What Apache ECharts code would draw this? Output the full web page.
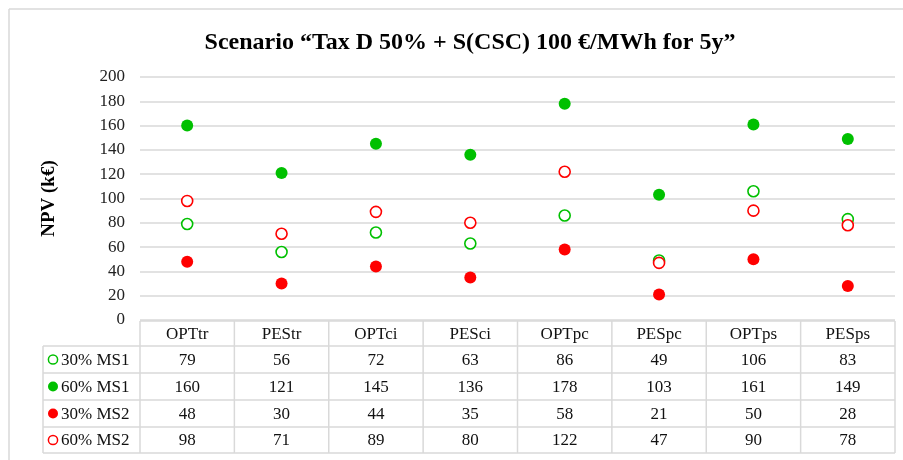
<!DOCTYPE html>
<html>
<head>
<meta charset="utf-8">
<script src="https://cdn.jsdelivr.net/npm/echarts@6/dist/echarts.min.js"></script>
<style>
  html, body { margin: 0; padding: 0; background: #fff; }
  #chart { width: 903px; height: 460px; }
</style>
</head>
<body>
<div id="chart"></div>
<script>
// 数据
const categories = ['OPTtr', 'PEStr', 'OPTci', 'PESci', 'OPTpc', 'PESpc', 'OPTps', 'PESps']
const ms1_30 = [79, 56, 72, 63, 86, 49, 106, 83]
const ms1_60 = [160, 121, 145, 136, 178, 103, 161, 149]
const ms2_30 = [48, 30, 44, 35, 58, 21, 50, 28]
const ms2_60 = [98, 71, 89, 80, 122, 47, 90, 78]
const yTicks = [0, 20, 40, 60, 80, 100, 120, 140, 160, 180, 200]

const GREEN = '#00c000'
const RED = '#ff0000'
const LINE = '#d9d9d9'
const SERIF = '"Liberation Serif", "DejaVu Serif", serif'

const rows = [
  { name: '30% MS1', data: ms1_30, color: GREEN, hollow: true },
  { name: '60% MS1', data: ms1_60, color: GREEN, hollow: false },
  { name: '30% MS2', data: ms2_30, color: RED, hollow: false },
  { name: '60% MS2', data: ms2_60, color: RED, hollow: true }
]

const chart = echarts.init(document.getElementById('chart'))

const option = {
  animation: false,
  title: {
    text: 'Scenario \u201cTax D 50% + S(CSC) 100 \u20ac/MWh for 5y\u201d',
    left: 465,
    top: 26,
    textAlign: 'center',
    textStyle: { fontFamily: SERIF, fontSize: 24, fontWeight: 'bold', color: '#000' }
  },
  grid: { left: 140, right: 8, top: 77, bottom: 140 },
  xAxis: {
    type: 'category',
    data: categories,
    boundaryGap: true,
    axisLine: { show: false },
    axisTick: { show: false },
    axisLabel: { show: false }
  },
  yAxis: {
    type: 'value',
    min: yTicks[0],
    max: yTicks[yTicks.length - 1],
    interval: 20,
    name: 'NPV (k\u20ac)',
    nameLocation: 'middle',
    nameGap: 81,
    nameTextStyle: { fontFamily: SERIF, fontSize: 19, fontWeight: 'bold', color: '#000' },
    axisLine: { show: false },
    axisTick: { show: false },
    axisLabel: { fontFamily: SERIF, fontSize: 17, color: '#222', margin: 15 },
    splitLine: { lineStyle: { color: LINE, width: 1.5 } }
  },
  series: rows.map(r => ({
    name: r.name,
    type: 'scatter',
    data: r.data,
    symbol: 'circle',
    symbolSize: r.hollow ? 11 : 12,
    itemStyle: r.hollow
      ? { color: '#fff', borderColor: r.color, borderWidth: 1.6, opacity: 1 }
      : { color: r.color, opacity: 1 }
  }))
}

chart.setOption(option)

// 数据表格
const buildTable = () => {
  const x0 = 43
  const xAxisLeft = 140
  const xRight = 895
  const colW = (xRight - xAxisLeft) / categories.length
  const rowY = [321, 346, 373, 400, 427, 453]
  const els = []
  const line = (x1, y1, x2, y2) => els.push({
    type: 'line', shape: { x1, y1, x2, y2 }, style: { stroke: LINE, lineWidth: 1.5 }, silent: true
  })

  // 外框
  line(9, 9, 903, 9)
  line(9, 9, 9, 460)

  line(xAxisLeft, rowY[0], xRight, rowY[0])
  for (let i = 1; i < rowY.length; i++) line(x0, rowY[i], xRight, rowY[i])
  line(x0, rowY[1], x0, rowY[5])
  for (let i = 0; i <= categories.length; i++) {
    const x = xAxisLeft + i * colW
    line(x, rowY[0], x, rowY[5])
  }

  const txt = (text, x, y, align) => els.push({
    type: 'text', x, y, silent: true,
    style: { text, fill: '#111', font: '17px ' + SERIF, align: align || 'center', verticalAlign: 'middle' }
  })

  categories.forEach((c, i) => {
    const cx = chart.convertToPixel({ xAxisIndex: 0 }, i)
    txt(c, cx, (rowY[0] + rowY[1]) / 2 + 1)
    rows.forEach((r, j) => {
      txt(String(r.data[i]), cx, (rowY[j + 1] + rowY[j + 2]) / 2 + 1)
    })
  })

  rows.forEach((r, j) => {
    const cy = (rowY[j + 1] + rowY[j + 2]) / 2
    els.push({
      type: 'circle', silent: true,
      shape: { cx: 53, cy, r: r.hollow ? 4.6 : 5 },
      style: r.hollow ? { fill: '#fff', stroke: r.color, lineWidth: 1.5 } : { fill: r.color }
    })
    txt(r.name, 61, cy + 1, 'left')
  })

  chart.setOption({ graphic: { elements: els } })
}

buildTable()
</script>
</body>
</html>
